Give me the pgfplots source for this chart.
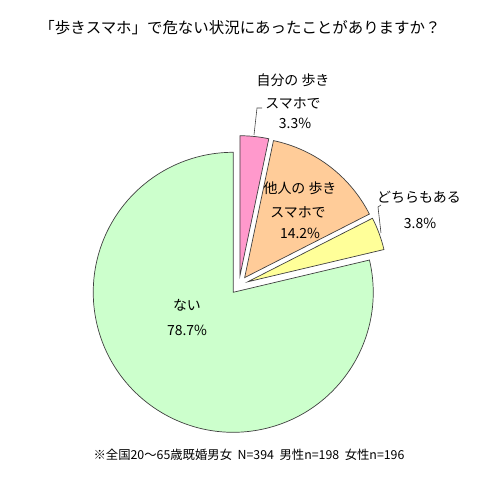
\documentclass[border=0pt]{standalone}
\usepackage{fontspec}
\setmainfont{Noto Sans CJK JP}
\usepackage{pgfplots}
\pgfplotsset{compat=1.18}
\usepackage{pgfplotstable}
\usetikzlibrary{calc}

\definecolor{pinkS}{HTML}{FF99CC}
\definecolor{orangeS}{HTML}{FFCC99}
\definecolor{yellowS}{HTML}{FFFF99}
\definecolor{greenS}{HTML}{CCFFCC}
\definecolor{edgegray}{HTML}{404040}

% slices clockwise from 12 o'clock
\pgfplotstableread{
value col
3.3   pinkS
14.2  orangeS
3.8   yellowS
78.7  greenS
}\piedata

\begin{document}
\begin{tikzpicture}
\begin{axis}[
    width=480bp, height=495bp, scale only axis,
    xmin=0, xmax=480, ymin=0, ymax=495,
    hide axis, clip=false,
]
\path (axis cs:0,0) rectangle (axis cs:480,495);

\pgfplotsextra{
\gdef\startang{90}
\foreach \i in {0,...,3}{
    \pgfplotstablegetelem{\i}{value}\of\piedata \let\sliceval\pgfplotsretval
    \pgfplotstablegetelem{\i}{col}\of\piedata \let\slicecol\pgfplotsretval
    \pgfmathsetmacro\endang{\startang-3.6*\sliceval}
    \pgfmathsetmacro\midang{(\startang+\endang)/2}
    \filldraw[fill=\slicecol, draw=edgegray, line width=0.7bp]
        ($(axis cs:239,210)+(\midang:9.3bp)$) -- ++(\startang:140bp)
        arc[start angle=\startang, end angle=\endang, radius=140bp] -- cycle;
    \xdef\startang{\endang}
}
}

% leader lines
\draw[edgegray, line width=0.6bp] (axis cs:254,360) -- (axis cs:257,387) -- (axis cs:262,387);
\draw[edgegray, line width=0.6bp] (axis cs:381,262) -- (axis cs:378,288) -- (axis cs:381,290);

% title
\node[font=\fontsize{15.5}{17}\selectfont] at (axis cs:240,467) {「歩きスマホ」で危ない状況にあったことがありますか？};

% slice labels
\begin{scope}[every node/.style={font=\fontsize{14}{16}\selectfont, inner sep=0pt}]
\node at (axis cs:293,415) {自分の 歩き};
\node at (axis cs:293,392) {スマホで};
\node at (axis cs:295,372) {3.3\%};
\node at (axis cs:300,307) {他人の 歩き};
\node at (axis cs:298,283) {スマホで};
\node at (axis cs:300,262) {14.2\%};
\node at (axis cs:419,298) {どちらもある};
\node at (axis cs:420,272) {3.8\%};
\node at (axis cs:187,190) {ない};
\node at (axis cs:187,165) {78.7\%};
\end{scope}

% footnote
\node[font=\fontsize{12.4}{14}\selectfont] at (axis cs:249,40) {※全国20～65歳既婚男女\ \ N=394\ \ 男性n=198\ \ 女性n=196};
\end{axis}
\end{tikzpicture}
\end{document}
